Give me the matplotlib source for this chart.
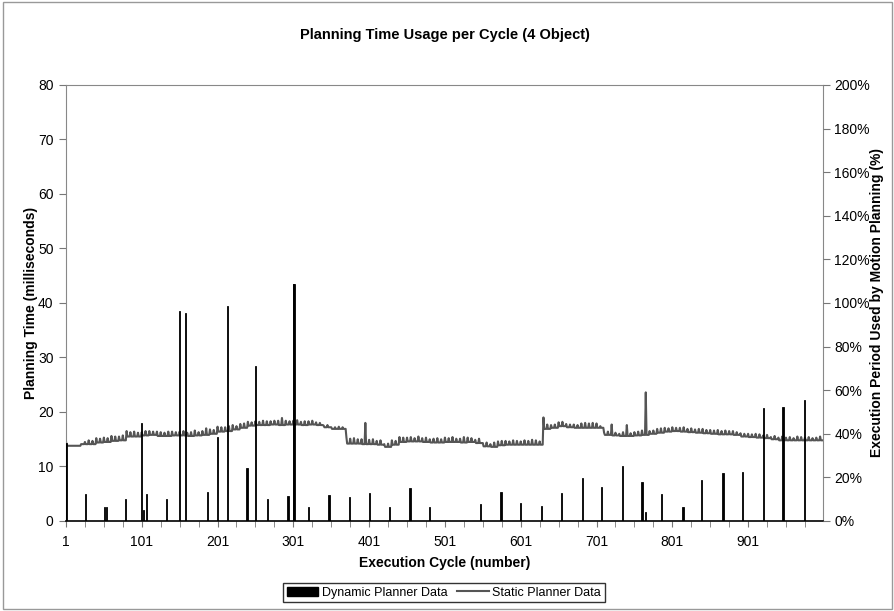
import numpy as np
import matplotlib
matplotlib.use("Agg")
import matplotlib.pyplot as plt
from matplotlib.patches import Patch, Rectangle
from matplotlib.lines import Line2D
from matplotlib.ticker import MultipleLocator, FixedLocator

plt.rcParams['font.family'] = ['Liberation Sans', 'DejaVu Sans']

# dynamic planner: cycles where planning happened, time in ms
dyn_cycles = [1, 27, 52, 54, 80, 101, 103, 107, 134, 151, 159, 188, 201, 214,
              240, 251, 267, 294, 301, 302, 321, 348, 375, 401, 428, 455, 481,
              548, 575, 601, 628, 655, 682, 708, 735, 761, 766, 787, 815, 840,
              868, 894, 921, 947, 975]
dyn_ms = [14.3, 4.9, 2.6, 2.6, 4.1, 18.0, 2.0, 4.9, 4.1, 38.6, 38.2, 5.3, 15.5,
          39.4, 9.8, 28.4, 4.0, 4.5, 43.5, 43.5, 2.6, 4.7, 4.4, 5.1, 2.6, 6.0,
          2.6, 3.1, 5.4, 3.3, 2.8, 5.2, 7.8, 6.3, 10.0, 7.2, 1.7, 5.0, 2.6, 7.6,
          8.8, 9.0, 20.8, 20.9, 22.2]

# static planner: base level per 10 cycles (ms)
static_base = [
    13.8, 13.8, 14.1, 14.1, 14.4, 14.5, 14.7, 14.8, 15.5, 15.5,
    15.7, 15.8, 15.6, 15.6, 15.7, 15.7, 15.6, 15.7, 15.8, 16.0,
    16.4, 16.5, 16.8, 17.1, 17.5, 17.6, 17.6, 17.7, 17.6, 17.7,
    17.7, 17.6, 17.7, 17.6, 17.2, 16.9, 16.9, 14.2, 14.2, 14.1,
    14.1, 14.0, 13.6, 14.0, 14.5, 14.6, 14.6, 14.5, 14.4, 14.4,
    14.5, 14.5, 14.4, 14.5, 14.3, 13.7, 13.6, 13.9, 14.0, 14.0,
    14.0, 14.0, 14.0, 16.9, 17.1, 17.4, 17.2, 17.1, 17.1, 17.1,
    17.1, 15.8, 15.7, 15.6, 15.6, 15.7, 15.8, 16.0, 16.2, 16.4,
    16.5, 16.4, 16.3, 16.2, 16.1, 16.0, 15.9, 15.9, 15.8, 15.5,
    15.4, 15.3, 15.2, 15.0, 14.8, 14.8, 14.8, 14.8, 14.8, 14.8]

# static planner: short peak every 5 cycles (ms above base)
static_peak = [
    0.8, 0, 0, 0, 0, 0.4, 0.7, 0.6, 0.8, 0.7,
    0.8, 0.7, 0.9, 0.8, 0.7, 0.9, 1.0, 0.8, 0.9, 0.7,
    0.6, 0.8, 0.7, 0.6, 0.8, 0.7, 0.6, 0.8, 0.7, 0.6,
    0.7, 0.8, 0.6, 0.7, 0.9, 0.6, 0.7, 1.2, 0.8, 0.7,
    0.9, 0.8, 0.7, 0.9, 0.8, 0.6, 0.7, 0.8, 0.7, 0.6,
    0.7, 0.6, 0.8, 0.7, 0.6, 0.7, 0.8, 1.3, 0.7, 0.6,
    0.7, 0.8, 0.6, 0.7, 0.6, 0.7, 0.5, 0.4, 0.3, 0.4,
    0.3, 0.3, 0.4, 0.3, 1.2, 0.9, 1.0, 0.8, 0.9, 3.9,
    0.8, 0.9, 0.7, 0.8, 0.5, 0.6, 0.8, 0.7, 0.9, 0.8,
    0.7, 0.8, 0.6, 0.9, 0.7, 0.8, 0.6, 0.7, 0.8, 0.6,
    0.8, 0.7, 0.9, 0.6, 0.7, 1.0, 0.8, 0.7, 0.6, 0.8,
    0.6, 0.7, 0.5, 0.8, 0.7, 0.8, 0.7, 0.6, 0.8, 0.7,
    0.6, 0.8, 0.7, 0.9, 0.8, 0.6, 2.1, 0.8, 0.5, 0.6,
    0.7, 0.8, 0.6, 0.5, 0.6, 0.5, 0.8, 0.9, 0.8, 0.9,
    0.8, 0.3, 0.4, 0.6, 2.0, 0.5, 0.4, 0.7, 2.0, 0.5,
    0.6, 0.7, 0.8, 7.8, 0.5, 0.6, 0.7, 0.8, 0.7, 0.6,
    0.7, 0.6, 0.7, 0.8, 0.6, 0.7, 0.6, 0.7, 0.8, 0.6,
    0.7, 0.6, 0.8, 0.6, 0.7, 0.6, 0.7, 0.5, 0.6, 0.5,
    0.6, 0.5, 0.7, 0.6, 0.5, 0.6, 0.4, 0.6, 0.5, 0.7,
    0.5, 0.6, 0.4, 0.7, 0.6, 0.5, 0.6, 0.4, 0.5, 0.7]

cycles = np.arange(1, 1001)
idx = cycles - 1
static_ms = np.array(static_base)[idx // 10] + np.where(idx % 5 == 0, np.array(static_peak)[idx // 5], 0.0)

fig = plt.figure(figsize=(8.95, 6.11), dpi=100)
ax = fig.add_axes([0.0737, 0.1473, 0.846, 0.7137])

ax.plot(cycles, static_ms, color='#555555', lw=1.5, zorder=2)
ax.bar(dyn_cycles, dyn_ms, width=1.6, color='black', edgecolor='black',
       linewidth=0.6, zorder=3)

ax.set_xlim(1, 1000)
ax.set_ylim(0, 80)
ax.xaxis.set_major_locator(FixedLocator(np.arange(1, 1000, 100)))
ax.xaxis.set_minor_locator(FixedLocator(np.arange(1, 1001, 25)))
ax.yaxis.set_major_locator(MultipleLocator(10))
ax.tick_params(axis='both', which='both', direction='out', labelsize=10, color='#777777')
ax.tick_params(axis='x', which='major', length=4, pad=6)
ax.tick_params(axis='x', which='minor', length=4)
ax.tick_params(axis='y', length=5, pad=4)

for s in ['left', 'top', 'right']:
    ax.spines[s].set_color('#888888')
    ax.spines[s].set_linewidth(0.8)
ax.spines['bottom'].set_color('black')
ax.spines['bottom'].set_linewidth(1.2)

ax2 = ax.twinx()
ax2.set_ylim(0, 200)
ax2.yaxis.set_major_locator(MultipleLocator(20))
ax2.set_yticklabels([f"{int(v)}%" for v in ax2.get_yticks()])
ax2.tick_params(axis='y', direction='out', length=5, labelsize=10, pad=3, color='#777777')
for s in ax2.spines.values():
    s.set_visible(False)

ax.set_title('Planning Time Usage per Cycle (4 Object)', fontsize=10.5,
             fontweight='bold', pad=33)
ax.set_xlabel('Execution Cycle (number)', fontsize=10, fontweight='bold', labelpad=5)
ax.set_ylabel('Planning Time (milliseconds)', fontsize=10, fontweight='bold', labelpad=0)
ax2.set_ylabel('Execution Period Used by Motion Planning (%)', fontsize=10,
               fontweight='bold', labelpad=0)

handles = [Patch(facecolor='black', edgecolor='black'),
           Line2D([0], [0], color='#555555', lw=1.5)]
fig.legend(handles, ['Dynamic Planner Data', 'Static Planner Data'],
           loc='center', bbox_to_anchor=(0.496, 0.030), ncol=2, fontsize=9,
           frameon=True, fancybox=False, edgecolor='black', handlelength=2.5,
           handletextpad=0.3, columnspacing=0.8, borderpad=0.3)

fig.patches.append(Rectangle((0.003, 0.003), 0.994, 0.994, transform=fig.transFigure,
                             fill=False, edgecolor='#999999', lw=1.0))

fig.savefig('out.png', dpi=100)
